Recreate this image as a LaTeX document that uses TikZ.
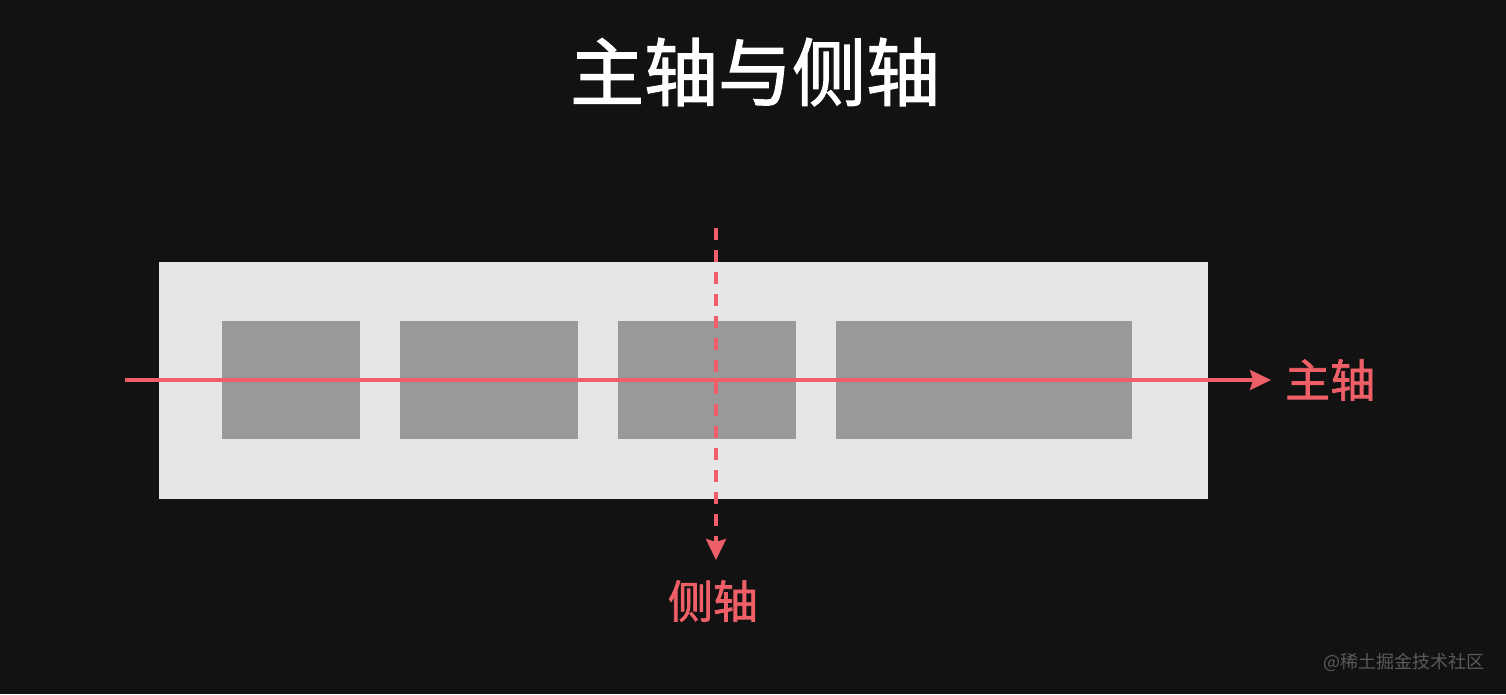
\documentclass[tikz,border=0pt]{standalone}
\usepackage{fontspec}
\newfontfamily\cjk{Noto Sans CJK SC}
\newfontfamily\cjkbold[FakeBold=1.6]{Noto Sans CJK SC}
\usetikzlibrary{arrows.meta}
\definecolor{bg}{HTML}{121212}
\definecolor{outer}{HTML}{E6E6E6}
\definecolor{item}{HTML}{999999}
\definecolor{axis}{HTML}{EE5F68}
\definecolor{wm}{HTML}{5A5A5A}
\tikzset{
  itembox/.style={fill=item, draw=none},
  axisline/.style={draw=axis, line width=3.5pt, -{Stealth[length=21pt,width=20pt,inset=3pt]}},
  axislabel/.style={text=axis, font=\cjkbold\fontsize{45}{48}\selectfont, inner sep=0pt},
}
\begin{document}
\begin{tikzpicture}[x=1pt,y=-1pt]
\fill[bg] (0,0) rectangle (1506,694);
\useasboundingbox (0,0) rectangle (1506,694);
\node[text=white, font=\cjkbold\fontsize{74}{80}\selectfont, inner sep=0pt] (title) at (755,72) {主轴与侧轴};
\fill[outer] (159,262) rectangle (1208,499);
\fill[itembox] (222,321) rectangle (360,439);
\fill[itembox] (400,321) rectangle (578,439);
\fill[itembox] (618,321) rectangle (796,439);
\fill[itembox] (836,321) rectangle (1132,439);
\coordinate (mstart) at (125,380);
\coordinate (mend) at (1271,380);
\coordinate (cstart) at (716,228);
\coordinate (cend) at (716,560);
\draw[axisline, dash pattern=on 12pt off 10pt] (cstart) -- (cend);
\draw[axisline] (mstart) -- (mend);
\node[axislabel, anchor=west] (mainlabel) at (1285,380) {主轴};
\node[axislabel] (crosslabel) at (713,601) {侧轴};
\node[text=wm, font=\cjk\fontsize{18}{20}\selectfont, inner sep=0pt, anchor=east] (watermark) at (1485,662) {@稀土掘金技术社区};
\end{tikzpicture}
\end{document}
